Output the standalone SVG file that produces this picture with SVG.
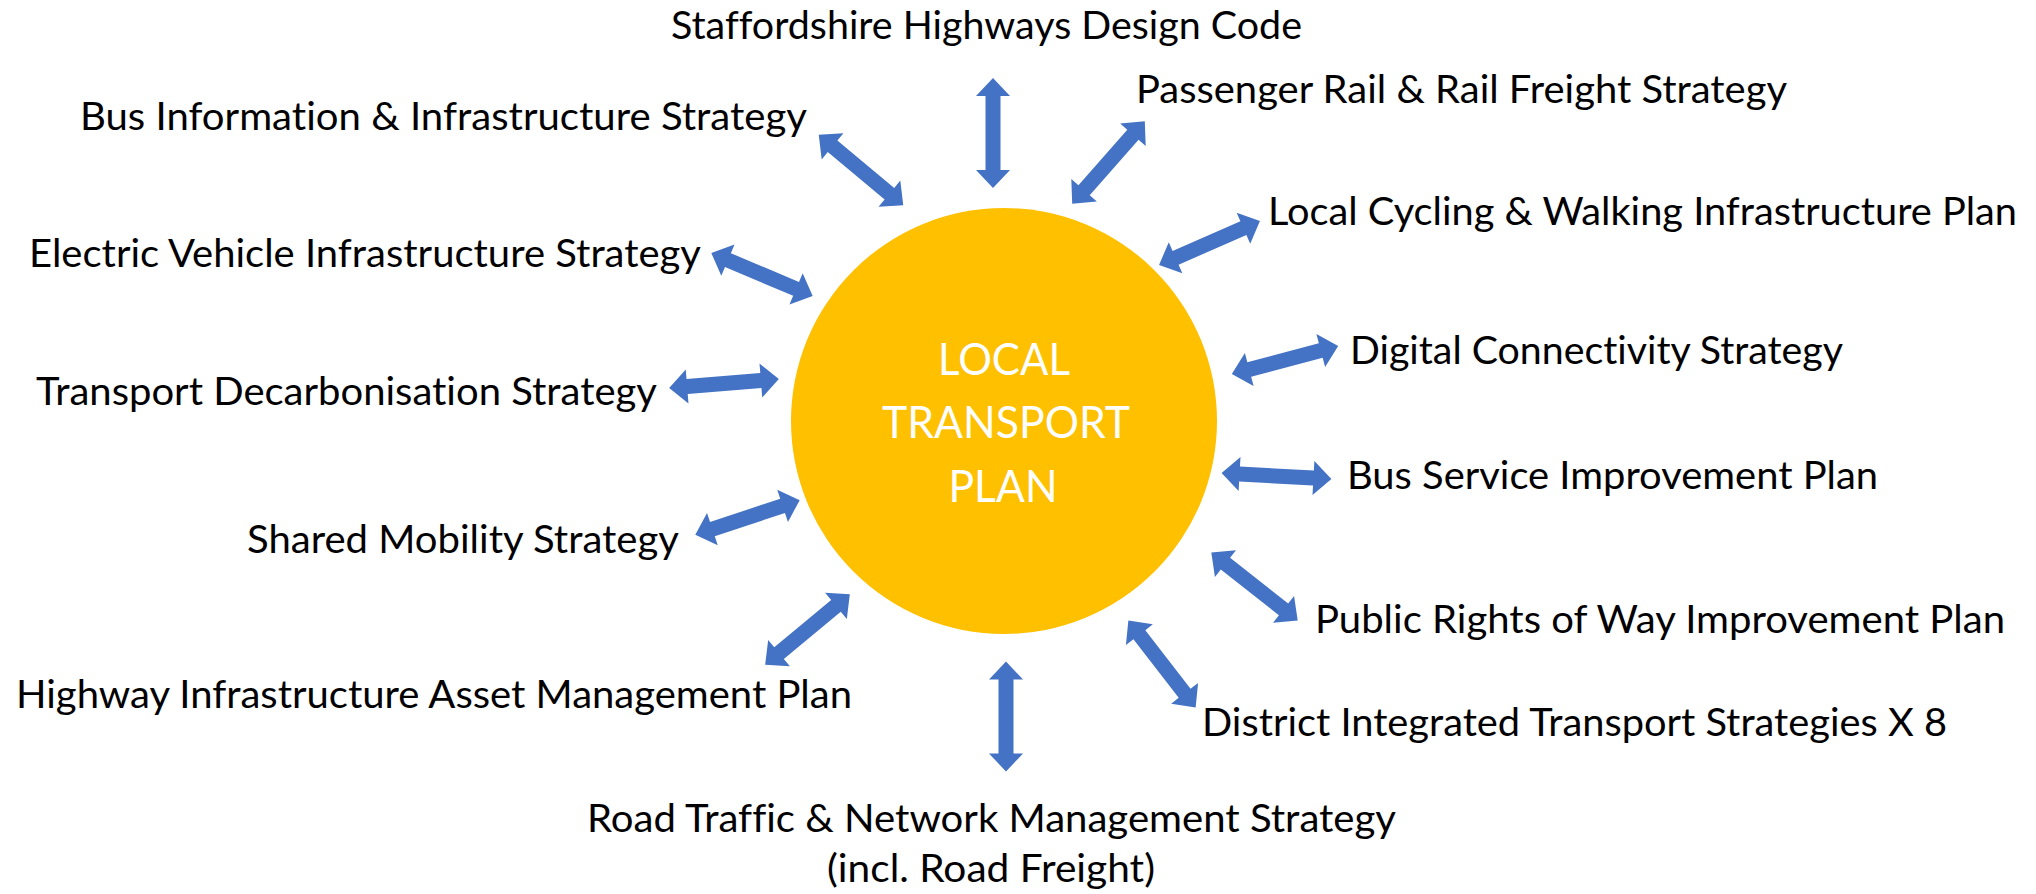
<svg xmlns="http://www.w3.org/2000/svg" xmlns:xlink="http://www.w3.org/1999/xlink" width="2036" height="894" viewBox="0 0 2036 894">
  <style>
    .lbl { font-family: Lato, "Liberation Sans", "DejaVu Sans", sans-serif; font-size: 38.6px; fill: #000000; font-variant-ligatures: none; font-feature-settings: "liga" 0, "clig" 0; }
    .ctr { font-family: Lato, "Liberation Sans", "DejaVu Sans", sans-serif; font-size: 45px; fill: #FFFFFF; text-anchor: middle; font-variant-ligatures: none; }
    .arrow { fill: #4472C4; }
  </style>
  <defs>
    <path id="dblArrow" class="arrow" d="M-55,0 L-37,-17 L-37,-7.5 L37,-7.5 L37,-17 L55,0 L37,17 L37,7.5 L-37,7.5 L-37,17 Z"/>
  </defs>
  <rect x="0" y="0" width="2036" height="894" fill="#FFFFFF"/>

  <g id="connectors">
    <use xlink:href="#dblArrow" href="#dblArrow" transform="translate(993,133) rotate(90)"/>
    <use xlink:href="#dblArrow" href="#dblArrow" transform="translate(1108.5,162.5) rotate(-48.7)"/>
    <use xlink:href="#dblArrow" href="#dblArrow" transform="translate(861,170) rotate(39.8)"/>
    <use xlink:href="#dblArrow" href="#dblArrow" transform="translate(1209.5,243) rotate(-23.5)"/>
    <use xlink:href="#dblArrow" href="#dblArrow" transform="translate(762,274.5) rotate(22.9)"/>
    <use xlink:href="#dblArrow" href="#dblArrow" transform="translate(1285,360) rotate(-14.8)"/>
    <use xlink:href="#dblArrow" href="#dblArrow" transform="translate(724,383.5) rotate(-4.6)"/>
    <use xlink:href="#dblArrow" href="#dblArrow" transform="translate(1276.5,476) rotate(3.15)"/>
    <use xlink:href="#dblArrow" href="#dblArrow" transform="translate(747.5,517.5) rotate(-18.4)"/>
    <use xlink:href="#dblArrow" href="#dblArrow" transform="translate(1254.5,586.5) rotate(38.25)"/>
    <use xlink:href="#dblArrow" href="#dblArrow" transform="translate(807.5,629.5) rotate(-39.7)"/>
    <use xlink:href="#dblArrow" href="#dblArrow" transform="translate(1162,664) rotate(52.3)"/>
    <use xlink:href="#dblArrow" href="#dblArrow" transform="translate(1006,716.5) rotate(90)"/>
  </g>

  <g id="local-transport-plan">
    <circle cx="1004" cy="421" r="213" fill="#FFC000"/>
    <text class="ctr" x="1004" y="375" textLength="132" lengthAdjust="spacingAndGlyphs">LOCAL</text>
    <text class="ctr" x="1006" y="438" textLength="248" lengthAdjust="spacingAndGlyphs">TRANSPORT</text>
    <text class="ctr" x="1003" y="502" textLength="109" lengthAdjust="spacingAndGlyphs">PLAN</text>
  </g>

  <g id="staffordshire-highways-design-code">
    <text class="lbl" x="671" y="39" textLength="631" lengthAdjust="spacingAndGlyphs">Staffordshire Highways Design Code</text>
  </g>
  <g id="passenger-rail-strategy">
    <text class="lbl" x="1136" y="103" textLength="651" lengthAdjust="spacingAndGlyphs">Passenger Rail &amp; Rail Freight Strategy</text>
  </g>
  <g id="bus-information-strategy">
    <text class="lbl" x="80" y="130" textLength="727" lengthAdjust="spacingAndGlyphs">Bus Information &amp; Infrastructure Strategy</text>
  </g>
  <g id="local-cycling-walking-plan">
    <text class="lbl" x="1268" y="225" textLength="749" lengthAdjust="spacingAndGlyphs">Local Cycling &amp; Walking Infrastructure Plan</text>
  </g>
  <g id="electric-vehicle-strategy">
    <text class="lbl" x="29" y="267" textLength="672" lengthAdjust="spacingAndGlyphs">Electric Vehicle Infrastructure Strategy</text>
  </g>
  <g id="digital-connectivity-strategy">
    <text class="lbl" x="1350" y="364" textLength="493" lengthAdjust="spacingAndGlyphs">Digital Connectivity Strategy</text>
  </g>
  <g id="transport-decarbonisation-strategy">
    <text class="lbl" x="36" y="405" textLength="621" lengthAdjust="spacingAndGlyphs">Transport Decarbonisation Strategy</text>
  </g>
  <g id="bus-service-improvement-plan">
    <text class="lbl" x="1347" y="489" textLength="531" lengthAdjust="spacingAndGlyphs">Bus Service Improvement Plan</text>
  </g>
  <g id="shared-mobility-strategy">
    <text class="lbl" x="247" y="553" textLength="432" lengthAdjust="spacingAndGlyphs">Shared Mobility Strategy</text>
  </g>
  <g id="public-rights-of-way-plan">
    <text class="lbl" x="1315" y="633" textLength="690" lengthAdjust="spacingAndGlyphs">Public Rights of Way Improvement Plan</text>
  </g>
  <g id="highway-infrastructure-asset-plan">
    <text class="lbl" x="16" y="708" textLength="836" lengthAdjust="spacingAndGlyphs">Highway Infrastructure Asset Management Plan</text>
  </g>
  <g id="district-integrated-transport-strategies">
    <text class="lbl" x="1202" y="736" textLength="745" lengthAdjust="spacingAndGlyphs">District Integrated Transport Strategies X 8</text>
  </g>
  <g id="road-traffic-network-strategy">
    <text class="lbl" x="587" y="832" textLength="809" lengthAdjust="spacingAndGlyphs">Road Traffic &amp; Network Management Strategy</text>
    <text class="lbl" x="827" y="882" textLength="328" lengthAdjust="spacingAndGlyphs">(incl. Road Freight)</text>
  </g>
</svg>
